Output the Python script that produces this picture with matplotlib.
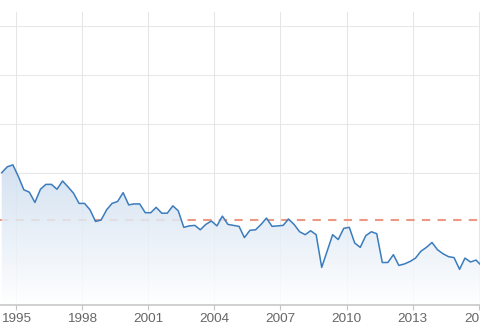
import numpy as np
import pandas as pd
import matplotlib
matplotlib.use('Agg')
import matplotlib.pyplot as plt
import matplotlib.dates as mdates
from matplotlib.patches import Polygon

# quarterly series (values in grid units)
values = [
    3.00, 3.12, 3.16, 2.92, 2.65, 2.60, 2.39, 2.66, 2.76, 2.76,
    2.66, 2.83, 2.71, 2.58, 2.37, 2.37, 2.24, 2.00, 2.03, 2.24,
    2.37, 2.41, 2.59, 2.34, 2.36, 2.36, 2.18, 2.18, 2.29, 2.17,
    2.17, 2.32, 2.22, 1.88, 1.91, 1.92, 1.83, 1.94, 2.01, 1.91,
    2.11, 1.94, 1.92, 1.90, 1.67, 1.82, 1.83, 1.94, 2.07, 1.90,
    1.91, 1.92, 2.05, 1.94, 1.79, 1.73, 1.81, 1.73, 1.06, 1.40,
    1.73, 1.63, 1.86, 1.88, 1.56, 1.47, 1.71, 1.79, 1.75, 1.16,
    1.16, 1.32, 1.10, 1.13, 1.18, 1.25, 1.39, 1.47, 1.57, 1.42,
    1.34, 1.28, 1.26, 1.02, 1.25, 1.17, 1.21, 1.09,
]
start_date = '1994-05-15'
average = 2.04
grid_levels = [3, 4, 5, 6]
x_range = ('1994-04-16', '2016-01-19')
y_range = (0.29, 6.29)

dates = pd.date_range(start_date, periods=len(values), freq=pd.DateOffset(months=3))
xs = mdates.date2num(dates)
vals = np.array(values)

fig = plt.figure(figsize=(4.8, 3.35), dpi=100)
ax = fig.add_axes([0, 0.0896, 1, 0.8746])
ax.set_xlim(mdates.date2num(pd.Timestamp(x_range[0])), mdates.date2num(pd.Timestamp(x_range[1])))
ax.set_ylim(*y_range)

# grid
for g in grid_levels:
    ax.axhline(g, color='#e8e8e8', lw=0.75, zorder=0)
ax.xaxis.set_major_locator(mdates.YearLocator(3))
ax.xaxis.set_major_formatter(mdates.DateFormatter('%Y'))
ax.grid(axis='x', color='#e6e6e6', lw=0.75, zorder=0)
ax.set_axisbelow(True)

# average line (sits under the area fill)
ax.axhline(average, color='#eb9984', lw=1.5, ls=(0, (4, 3.5)), zorder=1)

# gradient area
top_rgb = np.array([204, 221, 239]) / 255
bot_rgb = np.array([255, 255, 255]) / 255
t = np.linspace(0, 1, 256)[:, None]
grad = top_rgb * (1 - t) + bot_rgb * t
rgba = np.dstack([grad[:, None, :].repeat(2, axis=1)[..., i] for i in range(3)] +
                 [np.full((256, 2), 0.85)])
x0, x1 = ax.get_xlim()
im = ax.imshow(rgba, extent=[x0, x1, y_range[0], vals.max()], aspect='auto',
               origin='upper', zorder=2)
verts = [(xs[0], y_range[0])] + list(zip(xs, vals)) + [(xs[-1], y_range[0])]
clip = Polygon(verts, closed=True, facecolor='none', edgecolor='none')
ax.add_patch(clip)
im.set_clip_path(clip)
ax.set_ylim(*y_range)

ax.plot(xs, vals, color='#3a7cbd', lw=1.1, zorder=3)

for side in ['top', 'left', 'right']:
    ax.spines[side].set_visible(False)
ax.spines['bottom'].set_color('#c4c4c4')
ax.spines['bottom'].set_linewidth(1.1)
ax.set_yticks([])
ax.tick_params(axis='x', length=3.6, width=0.8, color='#c4c4c4', pad=2,
               labelsize=9.7, labelcolor='#666666')
for lbl in ax.get_xticklabels():
    lbl.set_family('Liberation Sans')

fig.savefig('out.png', dpi=100)
